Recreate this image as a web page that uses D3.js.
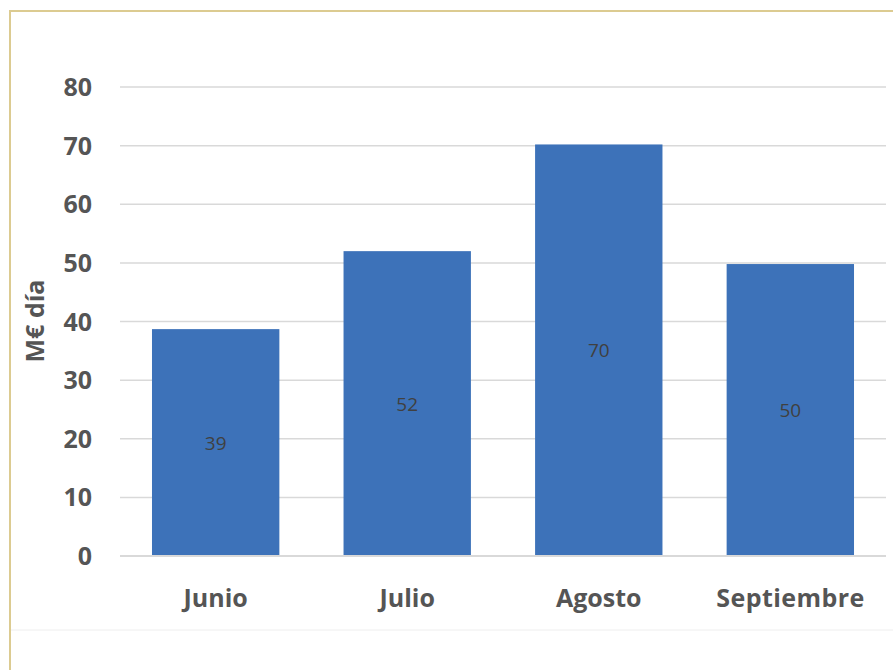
<!DOCTYPE html>
<html><head><meta charset="utf-8">
<script src="https://cdn.jsdelivr.net/npm/d3@7"></script>
<style>body{margin:0;background:#fff}</style>
</head><body>
<script>
var months = ["Junio", "Julio", "Agosto", "Septiembre"];
var values = [38.7, 52, 70.2, 49.8];
var labels = ["39", "52", "70", "50"];
var yTicks = [0, 10, 20, 30, 40, 50, 60, 70, 80];

var svg = d3.select("body").append("svg").attr("width", 893).attr("height", 670);

// frame
svg.append("path").attr("d", "M10,670 V11 H893").attr("fill", "none")
  .attr("stroke", "#dccb91").attr("stroke-width", 2);
svg.append("line").attr("x1", 11).attr("x2", 893).attr("y1", 630).attr("y2", 630)
  .attr("stroke", "#eeeeee").attr("stroke-width", 1);

var x = d3.scaleBand().domain(months).range([120, 886]).paddingInner(0.335).paddingOuter(0.167);
var y = d3.scaleLinear().domain([0, 80]).range([556, 87]);

svg.selectAll(".grid").data(yTicks.slice(1)).enter().append("line")
  .attr("x1", 120).attr("x2", 886)
  .attr("y1", d => y(d)).attr("y2", d => y(d))
  .attr("stroke", "#d9d9d9").attr("stroke-width", 1.5);

svg.selectAll(".bar").data(values).enter().append("rect")
  .attr("x", (d, i) => x(months[i])).attr("width", x.bandwidth())
  .attr("y", d => y(d)).attr("height", d => y(0) - y(d))
  .attr("fill", "#3d72b9");

svg.append("line").attr("x1", 120).attr("x2", 886).attr("y1", y(0)).attr("y2", y(0))
  .attr("stroke", "#d9d9d9").attr("stroke-width", 2);

svg.selectAll(".dl").data(values).enter().append("text")
  .attr("x", (d, i) => x(months[i]) + x.bandwidth() / 2)
  .attr("y", d => y(d / 2) + 7)
  .attr("text-anchor", "middle").attr("font-family", "Open Sans").attr("font-size", 19)
  .attr("fill", "#404040").text((d, i) => labels[i]);

svg.selectAll(".yt").data(yTicks).enter().append("text")
  .attr("x", 92).attr("y", d => y(d) + 9).attr("text-anchor", "end")
  .attr("font-family", "Open Sans").attr("font-weight", "bold").attr("font-size", 25)
  .attr("fill", "#555555").text(d => d);

svg.selectAll(".xt").data(months).enter().append("text")
  .attr("x", d => x(d) + x.bandwidth() / 2).attr("y", 607).attr("text-anchor", "middle")
  .attr("font-family", "Open Sans").attr("font-weight", "bold").attr("font-size", 25)
  .attr("fill", "#555555").attr("textLength", d => d === "Septiembre" ? 148 : null)
  .text(d => d);

svg.append("text").attr("transform", "translate(44,321) rotate(-90)")
  .attr("text-anchor", "middle").attr("font-family", "Open Sans").attr("font-weight", "bold")
  .attr("font-size", 25).attr("fill", "#555555").text("M€ día");
</script>
</body></html>
